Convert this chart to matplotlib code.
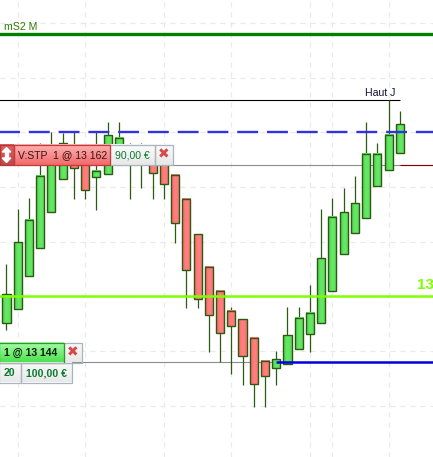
import matplotlib
matplotlib.use("Agg")
import matplotlib.pyplot as plt
from matplotlib.colors import LinearSegmentedColormap
from matplotlib.patches import Rectangle
import numpy as np

plt.rcParams['font.family'] = ['Liberation Sans', 'DejaVu Sans']

# candles, price of body bottom / body top / wick ends
body_bottom = [13147.57, 13148.85, 13151.86, 13154.42, 13157.71, 13160.73, 13161.74, 13159.73, 13160.91,
               13161.19, 13163.56, 13162.65, 13162.65, 13161.28, 13160.27, 13156.71, 13152.41, 13149.76,
               13148.30, 13146.65, 13147.29, 13144.55, 13141.99, 13142.72, 13143.46, 13143.82, 13145.19,
               13146.56, 13147.57, 13150.49, 13153.88, 13155.80, 13157.17, 13160.09, 13161.55, 13163.11]
body_top = [13150.22, 13154.97, 13156.98, 13161.01, 13163.84, 13164.02, 13163.84, 13163.75, 13161.46,
            13164.75, 13164.48, 13163.38, 13163.38, 13163.38, 13162.93, 13161.10, 13158.90, 13155.70,
            13152.69, 13150.49, 13148.67, 13147.93, 13146.20, 13144.10, 13144.28, 13146.47, 13148.03,
            13148.48, 13153.51, 13157.26, 13157.71, 13158.54, 13163.02, 13163.02, 13164.75, 13165.76]
highs = [13152.96, 13157.99, 13158.99, 13164.02, 13165.03, 13164.94, 13165.03, 13163.75, 13165.03,
         13165.94, 13165.94, 13164.02, 13164.02, 13163.38, 13162.93, 13161.10, 13158.90, 13155.70,
         13152.69, 13150.49, 13149.03, 13147.93, 13146.20, 13144.10, 13145.01, 13149.03, 13149.03,
         13151.04, 13157.99, 13158.99, 13159.91, 13161.01, 13165.94, 13164.02, 13167.95, 13166.95]
lows = [13146.93, 13148.85, 13151.86, 13154.42, 13157.71, 13160.73, 13158.90, 13158.90, 13157.90,
        13161.19, 13163.56, 13158.90, 13159.91, 13158.90, 13158.90, 13154.88, 13148.94, 13148.94,
        13144.92, 13144.00, 13142.91, 13141.90, 13139.89, 13139.89, 13141.90, 13143.82, 13145.19,
        13144.92, 13147.57, 13150.49, 13153.88, 13155.80, 13157.17, 13160.09, 13161.55, 13163.11]
rising = [1, 1, 1, 1, 1, 1, 0, 0, 1, 1, 1, 0, 0, 0, 0, 0, 0, 0,
          0, 0, 0, 0, 0, 0, 1, 1, 1, 1, 1, 1, 1, 1, 1, 1, 1, 1]

grid_prices = [13175, 13170, 13165, 13160, 13155, 13150, 13145, 13140]
grid_candles = [1, 7, 14, 20, 27, 29, 34]

level_ms2 = 13173.96
level_haut = 13167.95
level_blue = 13165.05
level_stop = 13162
level_lime = 13150.04
level_entry = 13144

fig = plt.figure(figsize=(4.33, 4.57), dpi=100)
ax = fig.add_axes([0, 0, 1, 1])

for p in grid_prices:
    ax.axhline(p, color='#e9e9e9', lw=0.9, ls=(0, (4, 4)), zorder=1)
for c in grid_candles:
    ax.axvline(c, color='#e9e9e9', lw=0.9, ls=(0, (4, 4)), zorder=1)

# levels
ax.axhline(level_ms2, color='#008000', lw=2.4, zorder=2)
ax.hlines(level_haut, -1, 35.05, color='black', lw=0.8, zorder=2)
ax.axhline(level_stop, color='#8c8c8c', lw=0.8, zorder=2)
ax.hlines(level_stop, 35, 39, color='#8b0000', lw=0.8, zorder=2)
ax.hlines(level_entry, -1, 24, color='#8c8c8c', lw=0.8, zorder=2)

x = np.arange(len(highs))
wick_col = '#2b5a10'
ax.vlines(x, lows, highs, color=wick_col, lw=0.9, zorder=3)

green_cm = LinearSegmentedColormap.from_list('up', ['#4cd24c', '#68ea68', '#58dc58'])
red_cm = LinearSegmentedColormap.from_list('down', ['#ff6464', '#ff8282', '#ff7070'])
grad = np.linspace(0, 1, 16).reshape(1, -1)
for i in x:
    ax.imshow(grad, cmap=green_cm if rising[i] else red_cm, aspect='auto', zorder=3.5,
              extent=(i - 0.36, i + 0.36, body_bottom[i], body_top[i]))
ax.bar(x, np.array(body_top) - np.array(body_bottom), 0.72, bottom=body_bottom,
       fill=False, edgecolor=wick_col, lw=1.0, zorder=4)

ax.axhline(level_blue, color='#3232e0', lw=1.7, ls=(0.4, (8.85, 3.76)), zorder=5)
ax.axhline(level_lime, color='#80ff00', lw=1.8, zorder=5)
ax.hlines(level_entry, 24, 39, color='#0000dc', lw=1.8, zorder=5)

ax.set_xlim(-0.578, 37.95)
ax.set_ylim(13135.32, 13177.09)
ax.axis('off')

ax.text(0.963, 0.376, '13', transform=ax.transAxes, color='#80ff00', fontsize=11,
        fontweight='bold', ha='left', va='center', zorder=6, clip_on=True)
ax.text(0.01, 0.9405, 'mS2 M', transform=ax.transAxes, color='#2f7d00', fontsize=7.6,
        ha='left', va='center', zorder=6)
ax.text(0.843, 0.797, 'Haut J', transform=ax.transAxes, color='#101030', fontsize=7.6,
        ha='left', va='center', zorder=6)

# order widgets, drawn in pixel coordinates
ov = fig.add_axes([0, 0, 1, 1], facecolor='none')
ov.axis('off')


def box(x0, y0, x1, y1, top, bottom, edge):
    cm = LinearSegmentedColormap.from_list('g', [top, bottom])
    ov.imshow(np.linspace(0, 1, 32).reshape(-1, 1), cmap=cm, extent=(x0, x1, y1, y0),
              aspect='auto', zorder=7, interpolation='bilinear')
    ov.add_patch(Rectangle((x0, y0), x1 - x0, y1 - y0, fill=False, ec=edge, lw=0.9, zorder=8))


box(110, 144.5, 155, 165, '#fbfbfb', '#e8e8e8', '#a9b5bd')
box(155, 144.5, 173, 165, '#fbfbfb', '#e8e8e8', '#a9b5bd')
box(0, 144.5, 13.5, 165, '#e06060', '#c04848', '#b83838')
box(13.5, 144.5, 110, 165, '#ffb4b4', '#f26a6a', '#c23a3a')
box(63.5, 343, 81.5, 362.5, '#fbfbfb', '#e8e8e8', '#a9b5bd')
box(-1, 343, 63.5, 362.5, '#a8fba8', '#4fe24f', '#2c9a2c')
box(-1, 362.5, 20.5, 382.5, '#fbfbfb', '#e8e8e8', '#a9b5bd')
box(20.5, 362.5, 71.5, 382.5, '#fbfbfb', '#e8e8e8', '#a9b5bd')

# double arrow on the handle
ov.fill([2.2, 6.5, 10.8], [152, 147.5, 152], color='white', zorder=9)
ov.fill([2.2, 6.5, 10.8], [158, 162.5, 158], color='white', zorder=9)
ov.add_patch(Rectangle((4.8, 151.5), 3.4, 7, color='white', zorder=9))

ov.text(18, 155.5, 'V:STP  1 @ 13 162', color='#3a1010', fontsize=7.5, ha='left', va='center', zorder=9)
ov.text(115, 155.5, '90,00 €', color='#0a7a30', fontsize=7.6, ha='left', va='center', zorder=9)
ov.text(164, 154.5, '✖', color='#d84848', fontsize=10, ha='center', va='center', zorder=9)
ov.text(4.5, 353, '1 @ 13 144', color='#0a200a', fontsize=7.5, fontweight='bold', ha='left', va='center', zorder=9)
ov.text(72.5, 352.5, '✖', color='#d84848', fontsize=10, ha='center', va='center', zorder=9)
ov.text(4, 373, '20', color='#0a7a30', fontsize=7.6, fontweight='bold', ha='left', va='center', zorder=9)
ov.text(25.5, 373, '100,00 €', color='#0a7a30', fontsize=7.6, fontweight='bold', ha='left', va='center', zorder=9)
ov.set_xlim(0, 433)
ov.set_ylim(457, 0)

fig.savefig('out.png', dpi=100)
